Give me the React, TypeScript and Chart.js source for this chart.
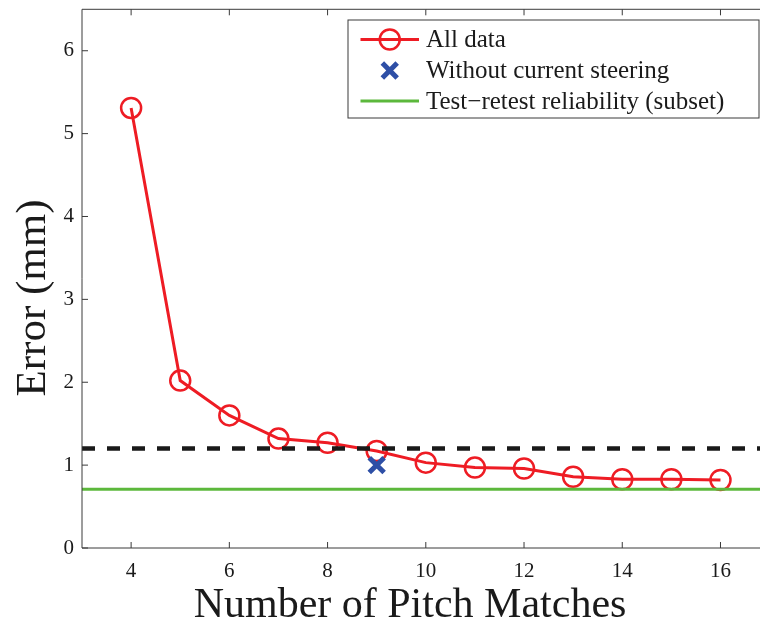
import React, { useEffect, useRef } from "react";
import { Chart, registerables } from "chart.js";

Chart.register(...registerables);

// ---- data ----
const pitchMatches = [4, 5, 6, 7, 8, 9, 10, 11, 12, 13, 14, 15, 16];
const allDataError = [5.31, 2.02, 1.6, 1.32, 1.27, 1.17, 1.03, 0.97, 0.96, 0.86, 0.83, 0.83, 0.82];
const withoutSteeringX = [9];
const withoutSteeringError = [1.0];
const thresholdError = 1.2;
const retestError = 0.71;
const xLimits = [3, 17];
const yLimits = [0, 6.5];
const xTickValues = [4, 6, 8, 10, 12, 14, 16];
const yTickValues = [0, 1, 2, 3, 4, 5, 6];
const legendLabels = ["All data", "Without current steering", "Test\u2212retest reliability (subset)"];
const xTitle = "Number of Pitch Matches";
const yTitle = "Error (mm)";

const RED = "#ee1c24";
const BLUE = "#2e4fa6";
const GREEN = "#5cb83c";
const FRAME = "#3a3a3a";
const SERIF = "'Liberation Serif', 'Times New Roman', serif";

const framePlugin = {
  id: "matlabFrame",
  afterDraw(chart: any) {
    const { ctx, chartArea } = chart;
    const { left, right, top, bottom } = chartArea;
    const xs = chart.scales.x;
    const ys = chart.scales.y;
    ctx.save();
    ctx.strokeStyle = FRAME;
    ctx.lineWidth = 1;
    ctx.beginPath();
    ctx.rect(left, top, right - left, bottom - top);
    ctx.stroke();
    const tl = 6;
    ctx.beginPath();
    xTickValues.forEach((v) => {
      const px = xs.getPixelForValue(v);
      ctx.moveTo(px, bottom);
      ctx.lineTo(px, bottom - tl);
      ctx.moveTo(px, top);
      ctx.lineTo(px, top + tl);
    });
    yTickValues.forEach((v) => {
      const py = ys.getPixelForValue(v);
      ctx.moveTo(left, py);
      ctx.lineTo(left + tl, py);
      ctx.moveTo(right, py);
      ctx.lineTo(right - tl, py);
    });
    ctx.stroke();

    // axis titles
    ctx.fillStyle = "#1a1a1a";
    ctx.font = `42px ${SERIF}`;
    ctx.textAlign = "center";
    ctx.textBaseline = "alphabetic";
    ctx.fillText(xTitle, 410, 617);
    ctx.save();
    ctx.translate(45, 298);
    ctx.rotate(-Math.PI / 2);
    ctx.font = `43px ${SERIF}`;
    ctx.fillText(yTitle, 0, 0);
    ctx.restore();

    // legend
    const boxRight = right - 10.6;
    const boxTop = top + 10.7;
    const boxW = 411;
    const boxH = 98;
    const boxLeft = boxRight - boxW;
    ctx.fillStyle = "#ffffff";
    ctx.fillRect(boxLeft, boxTop, boxW, boxH);
    ctx.strokeStyle = FRAME;
    ctx.lineWidth = 1;
    ctx.strokeRect(boxLeft, boxTop, boxW, boxH);
    const rows = [boxTop + 19.5, boxTop + 50.5, boxTop + 81];
    const sx0 = boxLeft + 12.5;
    const sx1 = boxLeft + 71;
    const sxc = (sx0 + sx1) / 2;
    // row 1
    ctx.strokeStyle = RED;
    ctx.lineWidth = 3;
    ctx.beginPath();
    ctx.moveTo(sx0, rows[0]);
    ctx.lineTo(sx1, rows[0]);
    ctx.stroke();
    ctx.lineWidth = 2.5;
    ctx.beginPath();
    ctx.arc(sxc, rows[0], 10, 0, Math.PI * 2);
    ctx.stroke();
    // row 2
    ctx.strokeStyle = BLUE;
    ctx.lineWidth = 5;
    const o = 10.5 * Math.SQRT1_2;
    ctx.beginPath();
    ctx.moveTo(sxc - o, rows[1] - o);
    ctx.lineTo(sxc + o, rows[1] + o);
    ctx.moveTo(sxc - o, rows[1] + o);
    ctx.lineTo(sxc + o, rows[1] - o);
    ctx.stroke();
    // row 3
    ctx.strokeStyle = GREEN;
    ctx.lineWidth = 3;
    ctx.beginPath();
    ctx.moveTo(sx0, rows[2]);
    ctx.lineTo(sx1, rows[2]);
    ctx.stroke();
    ctx.fillStyle = "#1a1a1a";
    ctx.font = `25px ${SERIF}`;
    ctx.textAlign = "left";
    ctx.textBaseline = "middle";
    legendLabels.forEach((t, i) => ctx.fillText(t, boxLeft + 78, rows[i] + 1));
    ctx.restore();
  },
};

export default function App() {
  const canvasRef = useRef<HTMLCanvasElement | null>(null);

  useEffect(() => {
    if (!canvasRef.current) return;
    const chart = new Chart(canvasRef.current, {
      type: "scatter",
      data: {
        datasets: [
          {
            label: legendLabels[0],
            data: pitchMatches.map((x, i) => ({ x, y: allDataError[i] })),
            showLine: true,
            borderColor: RED,
            borderWidth: 3,
            pointRadius: 10,
            pointBorderWidth: 2.5,
            pointBorderColor: RED,
            pointBackgroundColor: "rgba(0,0,0,0)",
            pointStyle: "circle",
            tension: 0,
            order: 4,
          },
          {
            label: "threshold",
            data: xLimits.map((x) => ({ x, y: thresholdError })),
            showLine: true,
            borderColor: "#1a1a1a",
            borderWidth: 4.5,
            borderDash: [13, 12],
            pointRadius: 0,
            order: 3,
          },
          {
            label: legendLabels[2],
            data: xLimits.map((x) => ({ x, y: retestError })),
            showLine: true,
            borderColor: GREEN,
            borderWidth: 3,
            pointRadius: 0,
            order: 2,
          },
          {
            label: legendLabels[1],
            data: withoutSteeringX.map((x, i) => ({ x, y: withoutSteeringError[i] })),
            showLine: false,
            pointStyle: "crossRot",
            pointRadius: 10.5,
            pointBorderWidth: 5,
            pointBorderColor: BLUE,
            borderColor: BLUE,
            backgroundColor: BLUE,
            order: 1,
          },
        ],
      },
      options: {
        responsive: false,
        animation: false,
        devicePixelRatio: 1,
        layout: { autoPadding: false, padding: { top: 9.3, right: 30.4, left: 0, bottom: 0 } },
        plugins: {
          legend: { display: false },
          tooltip: { enabled: false },
          title: { display: false },
        },
        scales: {
          x: {
            type: "linear",
            min: xLimits[0],
            max: xLimits[1],
            grid: { display: false, drawTicks: false },
            border: { display: false },
            afterBuildTicks: (s: any) => {
              s.ticks = xTickValues.map((v) => ({ value: v }));
            },
            afterFit: (s: any) => {
              s.height = 79;
              s.paddingLeft = 0;
              s.paddingRight = 0;
              s.paddingTop = 0;
              s.paddingBottom = 0;
            },
            ticks: {
              padding: 10.5,
              color: "#1a1a1a",
              font: { family: SERIF, size: 21, lineHeight: 1.2 },
              maxRotation: 0,
              autoSkip: false,
            },
          },
          y: {
            type: "linear",
            min: yLimits[0],
            max: yLimits[1],
            grid: { display: false, drawTicks: false },
            border: { display: false },
            afterBuildTicks: (s: any) => {
              s.ticks = yTickValues.map((v) => ({ value: v }));
            },
            afterFit: (s: any) => {
              s.width = 82;
              s.paddingLeft = 0;
              s.paddingRight = 0;
              s.paddingTop = 0;
              s.paddingBottom = 0;
            },
            ticks: {
              padding: 8,
              color: "#1a1a1a",
              font: { family: SERIF, size: 21, lineHeight: 1.2 },
              autoSkip: false,
            },
          },
        },
      },
      plugins: [framePlugin],
    });
    return () => chart.destroy();
  }, []);

  return (
    <div
      style={{
        position: "fixed",
        left: 0,
        top: 0,
        width: 760,
        height: 627,
        overflow: "hidden",
        background: "#ffffff",
      }}
    >
      <canvas ref={canvasRef} width={800} height={627} style={{ display: "block", width: 800, height: 627 }} />
    </div>
  );
}
